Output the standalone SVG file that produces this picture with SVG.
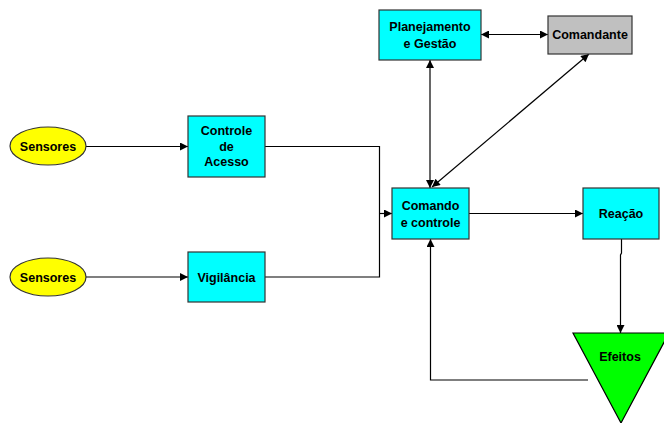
<svg xmlns="http://www.w3.org/2000/svg" width="664" height="423" viewBox="0 0 664 423">
<style>
text{font-family:"Liberation Sans",Arial,sans-serif;font-weight:bold;font-size:12.5px;text-anchor:middle;fill:#000}
.box{fill:#00FFFF;stroke:#333;stroke-width:1.2}
.gray{fill:#C0C0C0;stroke:#333;stroke-width:1.2}
.ell{fill:#FFFF00;stroke:#333;stroke-width:1.2}
.tri{fill:#00FF00;stroke:#000;stroke-width:1.2}
.c{fill:none;stroke:#000;stroke-width:1.2}
</style>
<defs>
<marker id="ah" viewBox="0 0 10 10" refX="10" refY="5" markerWidth="10" markerHeight="8" markerUnits="userSpaceOnUse" orient="auto-start-reverse">
<path d="M0,0 L10,5 L0,10 z" fill="#000"/>
</marker>
</defs>
<rect width="664" height="423" fill="#fff"/>
<g id="connectors">
<path class="c" d="M86,146.5 H188" marker-end="url(#ah)"/>
<path class="c" d="M86,277 H188" marker-end="url(#ah)"/>
<path class="c" d="M265,146.5 H379.5 V277 H265"/>
<path class="c" d="M379.5,213.5 H392" marker-end="url(#ah)"/>
<path class="c" d="M469,213.5 H583" marker-end="url(#ah)"/>
<path class="c" d="M430,60 V188" marker-start="url(#ah)" marker-end="url(#ah)"/>
<path class="c" d="M481,34.5 H548" marker-start="url(#ah)" marker-end="url(#ah)"/>
<path class="c" d="M589,54 L432,187" marker-start="url(#ah)" marker-end="url(#ah)"/>
<path class="c" d="M621.5,239 V253 L620.5,255 V333" marker-end="url(#ah)"/>
<path class="c" d="M588,380 H430.5 V239" marker-end="url(#ah)"/>
</g>
<g id="sensores1">
<ellipse class="ell" cx="48" cy="146" rx="38" ry="19"/>
<text x="48" y="150.5">Sensores</text>
</g>
<g id="sensores2">
<ellipse class="ell" cx="48" cy="277" rx="38" ry="19"/>
<text x="48" y="281.5">Sensores</text>
</g>
<g id="controle-acesso">
<rect class="box" x="188" y="116" width="77" height="61"/>
<text x="226.5" y="135">Controle</text>
<text x="226.5" y="151">de</text>
<text x="226.5" y="166">Acesso</text>
</g>
<g id="vigilancia">
<rect class="box" x="188" y="252" width="77" height="50"/>
<text x="226.5" y="281.5">Vigilância</text>
</g>
<g id="planejamento">
<rect class="box" x="379" y="10" width="102" height="50"/>
<text x="430" y="30.5">Planejamento</text>
<text x="430" y="47.5">e Gestão</text>
</g>
<g id="comandante">
<rect class="gray" x="548" y="16" width="84" height="38"/>
<text x="590" y="39">Comandante</text>
</g>
<g id="comando">
<rect class="box" x="392" y="188" width="77" height="51"/>
<text x="430.5" y="209.5">Comando</text>
<text x="430.5" y="226.5">e controle</text>
</g>
<g id="reacao">
<rect class="box" x="583" y="188" width="76" height="51"/>
<text x="621" y="218">Reação</text>
</g>
<g id="efeitos">
<polygon class="tri" points="573,333 669,333 621,423"/>
<text x="620" y="361">Efeitos</text>
</g>
</svg>
